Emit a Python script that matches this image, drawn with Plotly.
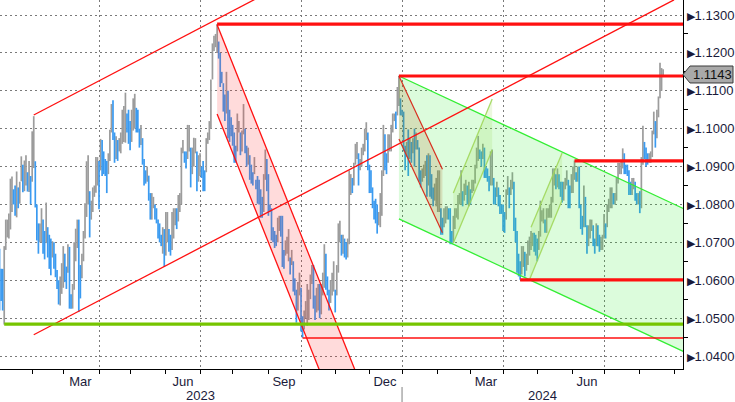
import pandas as pd
import plotly.graph_objects as go

# ------------------------------------------------
# DATA  (EUR/USD daily high / low, weekdays Jan 2 2023 -> Aug 22 2024)
# ------------------------------------------------
days = pd.bdate_range("2023-01-02", "2024-08-22")

high = [
    # 2023
    1.0713, 1.0683, 1.0630, 1.0630, 1.0690,
    1.0760, 1.0760, 1.0776, 1.0868, 1.0874,
    1.0840, 1.0850, 1.0887, 1.0845, 1.0860,
    1.0927, 1.0905, 1.0916, 1.0930, 1.0885,
    1.0915, 1.0875, 1.0993, 1.1033, 1.0914,
    1.0800, 1.0750, 1.0750, 1.0790, 1.0760,
    1.0730, 1.0805, 1.0740, 1.0720, 1.0710,
    1.0703, 1.0700, 1.0670, 1.0627, 1.0600,
    1.0610, 1.0645, 1.0690, 1.0670, 1.0636,
    1.0695, 1.0688, 1.0563, 1.0590, 1.0700,
    1.0736, 1.0760, 1.0760, 1.0640, 1.0670,
    1.0730, 1.0803, 1.0914, 1.0930, 1.0835,
    1.0810, 1.0845, 1.0850, 1.0925, 1.0925,
    1.0915, 1.0973, 1.0970, 1.0940, 1.0920,
    1.0915, 1.0935, 1.0997, 1.1065, 1.1075,
    1.0990, 1.0980, 1.0970, 1.0975, 1.0990,
    1.1050, 1.1060, 1.1095, 1.1040, 1.1050,
    1.1020, 1.1050, 1.1080, 1.1092, 1.1055,
    1.1050, 1.1000, 1.1010, 1.0975, 1.0920,
    1.0890, 1.0900, 1.0876, 1.0830, 1.0830,
    1.0820, 1.0800, 1.0790, 1.0760, 1.0750,
    1.0720, 1.0740, 1.0735, 1.0780, 1.0780,
    1.0735, 1.0720, 1.0780, 1.0790, 1.0790,
    1.0790, 1.0825, 1.0830, 1.0950, 1.0970,
    1.0940, 1.0940, 1.1010, 1.1010, 1.0950,
    1.0950, 1.0976, 1.0975, 1.0940, 1.0930,
    1.0935, 1.0900, 1.0915, 1.0890, 1.0975,
    1.0990, 1.1020, 1.1130, 1.1225, 1.1245,
    1.1250, 1.1276, 1.1230, 1.1200, 1.1150,
    1.1120, 1.1090, 1.1150, 1.1100, 1.1050,
    1.1030, 1.1010, 1.0990, 1.0955, 1.1040,
    1.1020, 1.0990, 1.0995, 1.1065, 1.1000,
    1.0955, 1.0950, 1.0930, 1.0905, 1.0885,
    1.0925, 1.0865, 1.0875, 1.0865, 1.0840,
    1.0820, 1.0880, 1.0945, 1.0920, 1.0880,
    1.0800, 1.0790, 1.0740, 1.0730, 1.0720,
    1.0765, 1.0770, 1.0770, 1.0770, 1.0680,
    1.0705, 1.0715, 1.0735, 1.0660, 1.0680,
    1.0650, 1.0605, 1.0575, 1.0595, 1.0620,
    1.0580, 1.0505, 1.0520, 1.0545, 1.0590,
    1.0575, 1.0615, 1.0640, 1.0640, 1.0560,
    1.0580, 1.0590, 1.0590, 1.0590, 1.0620,
    1.0695, 1.0670, 1.0610, 1.0575, 1.0600,
    1.0620, 1.0650, 1.0575, 1.0640, 1.0750,
    1.0757, 1.0720, 1.0720, 1.0710, 1.0700,
    1.0710, 1.0890, 1.0880, 1.0870, 1.0910,
    1.0960, 1.0965, 1.0935, 1.0920, 1.0950,
    1.0960, 1.1000, 1.1017, 1.0990, 1.0905,
    1.0890, 1.0845, 1.0810, 1.0815, 1.0800,
    1.0780, 1.0830, 1.0890, 1.1010, 1.0985,
    1.0935, 1.0985, 1.0985, 1.1010, 1.1040,
    1.1040, 1.1045, 1.1110, 1.1140, 1.1080,
    # 2024
    1.1050, 1.1045, 1.0955, 1.0965, 1.0998,
    1.0975, 1.0965, 1.0975, 1.1000, 1.0990,
    1.0970, 1.0950, 1.0890, 1.0895, 1.0905,
    1.0915, 1.0930, 1.0935, 1.0930, 1.0880,
    1.0845, 1.0855, 1.0870, 1.0890, 1.0890,
    1.0790, 1.0765, 1.0790, 1.0795, 1.0795,
    1.0790, 1.0790, 1.0730, 1.0770, 1.0790,
    1.0790, 1.0825, 1.0830, 1.0890, 1.0835,
    1.0855, 1.0865, 1.0850, 1.0860, 1.0840,
    1.0865, 1.0865, 1.0905, 1.0950, 1.0981,
    1.0945, 1.0940, 1.0960, 1.0950, 1.0900,
    1.0895, 1.0875, 1.0940, 1.0945, 1.0870,
    1.0845, 1.0860, 1.0845, 1.0825, 1.0800,
    1.0800, 1.0780, 1.0840, 1.0875, 1.0845,
    1.0865, 1.0885, 1.0860, 1.0765, 1.0730,
    1.0670, 1.0650, 1.0690, 1.0690, 1.0675,
    1.0670, 1.0705, 1.0715, 1.0730, 1.0725,
    1.0725, 1.0720, 1.0710, 1.0730, 1.0810,
    1.0785, 1.0790, 1.0760, 1.0790, 1.0790,
    1.0800, 1.0820, 1.0895, 1.0895, 1.0880,
    1.0895, 1.0880, 1.0860, 1.0860, 1.0860,
    1.0870, 1.0890, 1.0865, 1.0850, 1.0880,
    1.0900, 1.0916, 1.0885, 1.0900, 1.0900,
    1.0800, 1.0770, 1.0850, 1.0820, 1.0745,
    1.0745, 1.0760, 1.0760, 1.0745, 1.0710,
    1.0750, 1.0745, 1.0720, 1.0715, 1.0720,
    1.0775, 1.0750, 1.0800, 1.0815, 1.0845,
    1.0845, 1.0830, 1.0830, 1.0870, 1.0910,
    1.0910, 1.0915, 1.0948, 1.0935, 1.0905,
    1.0905, 1.0890, 1.0860, 1.0870, 1.0870,
    1.0860, 1.0830, 1.0830, 1.0835, 1.0925,
    1.1008, 1.0965, 1.0950, 1.0935, 1.0935,
    1.0940, 1.0995, 1.1045, 1.1020, 1.1050,
    1.1085, 1.1174, 1.1160, 1.1157,
]

low = [
    # 2023
    1.0655, 1.0520, 1.0545, 1.0520, 1.0483,
    1.0680, 1.0713, 1.0710, 1.0734, 1.0780,
    1.0800, 1.0770, 1.0766, 1.0790, 1.0802,
    1.0861, 1.0832, 1.0835, 1.0850, 1.0834,
    1.0833, 1.0800, 1.0860, 1.0896, 1.0792,
    1.0705, 1.0670, 1.0700, 1.0700, 1.0670,
    1.0655, 1.0698, 1.0660, 1.0630, 1.0613,
    1.0660, 1.0630, 1.0608, 1.0577, 1.0536,
    1.0533, 1.0564, 1.0580, 1.0595, 1.0577,
    1.0620, 1.0525, 1.0525, 1.0525, 1.0575,
    1.0650, 1.0685, 1.0516, 1.0552, 1.0605,
    1.0650, 1.0710, 1.0767, 1.0800, 1.0713,
    1.0760, 1.0780, 1.0820, 1.0831, 1.0850,
    1.0787, 1.0890, 1.0875, 1.0880, 1.0875,
    1.0830, 1.0880, 1.0915, 1.0990, 1.0970,
    1.0910, 1.0920, 1.0915, 1.0940, 1.0935,
    1.0960, 1.0965, 1.0963, 1.0990, 1.0960,
    1.0943, 1.0965, 1.0995, 1.1000, 1.0990,
    1.0990, 1.0950, 1.0957, 1.0905, 1.0850,
    1.0855, 1.0860, 1.0810, 1.0760, 1.0760,
    1.0790, 1.0760, 1.0750, 1.0710, 1.0700,
    1.0690, 1.0670, 1.0635, 1.0665, 1.0700,
    1.0675, 1.0665, 1.0680, 1.0710, 1.0745,
    1.0735, 1.0755, 1.0780, 1.0800, 1.0935,
    1.0910, 1.0895, 1.0920, 1.0940, 1.0845,
    1.0880, 1.0900, 1.0935, 1.0835, 1.0860,
    1.0875, 1.0870, 1.0835, 1.0835, 1.0885,
    1.0960, 1.0970, 1.1000, 1.1130, 1.1205,
    1.1215, 1.1200, 1.1185, 1.1110, 1.1120,
    1.1045, 1.1020, 1.1040, 1.0975, 1.0965,
    1.0980, 1.0955, 1.0910, 1.0910, 1.0940,
    1.0990, 1.0930, 1.0940, 1.0985, 1.0935,
    1.0900, 1.0905, 1.0865, 1.0855, 1.0850,
    1.0880, 1.0840, 1.0802, 1.0800, 1.0765,
    1.0765, 1.0780, 1.0865, 1.0835, 1.0770,
    1.0780, 1.0705, 1.0700, 1.0685, 1.0690,
    1.0700, 1.0730, 1.0715, 1.0635, 1.0630,
    1.0665, 1.0670, 1.0650, 1.0615, 1.0640,
    1.0570, 1.0560, 1.0488, 1.0520, 1.0560,
    1.0465, 1.0448, 1.0470, 1.0500, 1.0480,
    1.0495, 1.0550, 1.0590, 1.0525, 1.0495,
    1.0515, 1.0520, 1.0500, 1.0510, 1.0560,
    1.0580, 1.0575, 1.0560, 1.0520, 1.0540,
    1.0560, 1.0570, 1.0515, 1.0560, 1.0620,
    1.0700, 1.0665, 1.0670, 1.0660, 1.0655,
    1.0660, 1.0695, 1.0825, 1.0830, 1.0850,
    1.0905, 1.0920, 1.0850, 1.0890, 1.0900,
    1.0930, 1.0940, 1.0970, 1.0890, 1.0830,
    1.0830, 1.0790, 1.0760, 1.0750, 1.0723,
    1.0745, 1.0740, 1.0770, 1.0875, 1.0890,
    1.0880, 1.0910, 1.0940, 1.0940, 1.0990,
    1.1020, 1.1000, 1.1035, 1.1060, 1.1035,
    # 2024
    1.1035, 1.0940, 1.0890, 1.0925, 1.0875,
    1.0920, 1.0910, 1.0935, 1.0900, 1.0945,
    1.0945, 1.0860, 1.0845, 1.0860, 1.0870,
    1.0875, 1.0820, 1.0850, 1.0820, 1.0815,
    1.0795, 1.0810, 1.0795, 1.0780, 1.0780,
    1.0720, 1.0720, 1.0740, 1.0750, 1.0760,
    1.0760, 1.0695, 1.0695, 1.0700, 1.0735,
    1.0765, 1.0760, 1.0800, 1.0800, 1.0795,
    1.0810, 1.0825, 1.0800, 1.0795, 1.0800,
    1.0830, 1.0835, 1.0855, 1.0895, 1.0915,
    1.0920, 1.0900, 1.0920, 1.0870, 1.0870,
    1.0860, 1.0835, 1.0850, 1.0850, 1.0800,
    1.0800, 1.0820, 1.0795, 1.0775, 1.0775,
    1.0730, 1.0725, 1.0760, 1.0825, 1.0790,
    1.0825, 1.0840, 1.0730, 1.0700, 1.0620,
    1.0610, 1.0601, 1.0615, 1.0635, 1.0610,
    1.0625, 1.0640, 1.0665, 1.0680, 1.0690,
    1.0675, 1.0665, 1.0650, 1.0680, 1.0715,
    1.0755, 1.0750, 1.0725, 1.0725, 1.0765,
    1.0765, 1.0765, 1.0805, 1.0850, 1.0840,
    1.0845, 1.0840, 1.0820, 1.0805, 1.0810,
    1.0840, 1.0850, 1.0790, 1.0790, 1.0830,
    1.0830, 1.0865, 1.0860, 1.0860, 1.0790,
    1.0735, 1.0720, 1.0740, 1.0740, 1.0670,
    1.0690, 1.0710, 1.0730, 1.0690, 1.0670,
    1.0690, 1.0690, 1.0675, 1.0680, 1.0680,
    1.0710, 1.0710, 1.0740, 1.0780, 1.0790,
    1.0790, 1.0800, 1.0800, 1.0810, 1.0855,
    1.0880, 1.0880, 1.0895, 1.0880, 1.0880,
    1.0875, 1.0825, 1.0825, 1.0825, 1.0840,
    1.0810, 1.0800, 1.0800, 1.0777, 1.0790,
    1.0905, 1.0920, 1.0900, 1.0905, 1.0910,
    1.0910, 1.0925, 1.0985, 1.0950, 1.0975,
    1.1030, 1.1080, 1.1100, 1.1138,
]

last_price = 1.1143

# axis labels
y_ticks = [1.04, 1.05, 1.06, 1.07, 1.08, 1.09, 1.10, 1.11, 1.12, 1.13]
month_label_dates = ["2023-03-16", "2023-06-16", "2023-09-15",
                     "2023-12-15", "2024-03-15", "2024-06-14"]
month_labels = ["Mar", "Jun", "Sep", "Dec", "Mar", "Jun"]
month_starts = ["2023-02-01", "2023-03-01", "2023-04-03", "2023-05-01",
                "2023-06-01", "2023-07-03", "2023-08-01", "2023-09-01",
                "2023-10-02", "2023-11-01", "2023-12-01", "2024-01-01",
                "2024-02-01", "2024-03-01", "2024-04-01", "2024-05-01",
                "2024-06-03", "2024-07-01", "2024-08-01", "2024-09-02"]
quarter_starts = ["2023-04-03", "2023-07-03", "2023-10-02",
                  "2024-01-01", "2024-04-01", "2024-07-01"]
years = ["2023", "2024"]

# drawn studies: (dates, prices)
END = "2024-09-30"
rise_upper = (["2023-02-02", "2024-09-02"], [1.1036, 1.1920])
rise_lower = (["2023-02-02", "2024-09-02"], [1.0456, 1.1340])

fall_upper = (["2023-07-18", "2023-11-30"], [1.1274, 1.0278])
fall_lower = (["2023-07-18", "2023-11-30"], [1.1039, 1.0043])

down_upper = (["2023-12-28", END], [1.1139, 1.0751])
down_lower = (["2023-12-28", END], [1.0762, 1.0374])

tan_upper = (["2023-12-28", "2024-02-06"], [1.1139, 1.0893])
tan_lower = (["2023-12-28", "2024-02-06"], [1.0973, 1.0725])

flag1_upper = (["2024-02-15", "2024-03-21"], [1.0830, 1.1078])
flag1_lower = (["2024-02-15", "2024-03-21"], [1.0698, 1.0944])
flag2_upper = (["2024-04-25", "2024-05-23"], [1.0740, 1.0936])
flag2_lower = (["2024-04-24", "2024-05-23"], [1.0601, 1.0812])

levels_thick = [("2023-07-18", 1.1276), ("2023-12-28", 1.1139),
                ("2024-06-04", 1.0915), ("2024-04-16", 1.0601)]
level_green = ("2023-01-06", 1.0484)
level_thin = ("2023-10-03", 1.04475)

RED = "#ff1010"
BLUE = "#3a9af0"
GREY = "#9c9c9c"
FONT = "Liberation Sans, Arial, sans-serif"
TXT = "#1a1a3a"

fig = go.Figure()

# ------------------------------------------------
# PRICE BARS
# ------------------------------------------------
mid = [(h + l) / 2 for h, l in zip(high, low)]
rising = [i == 0 or mid[i] >= mid[i - 1] for i in range(len(mid))]


def bar_xy(flag):
    xs, ys = [], []
    for d, h, l, r in zip(days, high, low, rising):
        if r == flag:
            xs += [d, d, None]
            ys += [l, h, None]
    return xs, ys


for flag, col in [(True, GREY), (False, BLUE)]:
    bx, by = bar_xy(flag)
    fig.add_trace(go.Scatter(x=bx, y=by, mode="lines",
                             line=dict(color=col, width=1.7),
                             hoverinfo="skip", showlegend=False))


# ------------------------------------------------
# CHANNEL FILLS
# ------------------------------------------------
def band(upper, lower, color):
    xs = list(upper[0]) + list(lower[0])[::-1]
    ys = list(upper[1]) + list(lower[1])[::-1]
    fig.add_trace(go.Scatter(x=xs, y=ys, fill="toself", fillcolor=color,
                             mode="none", hoverinfo="skip", showlegend=False))


def seg(pts, color, width):
    fig.add_trace(go.Scatter(x=pts[0], y=pts[1], mode="lines",
                             line=dict(color=color, width=width),
                             hoverinfo="skip", showlegend=False))


band(fall_upper, fall_lower, "rgba(255,40,40,0.17)")
band(down_upper, down_lower, "rgba(40,235,40,0.16)")
band(tan_upper, tan_lower, "rgba(170,90,20,0.17)")
band(flag1_upper, flag1_lower, "rgba(150,215,80,0.18)")
band(flag2_upper, flag2_lower, "rgba(150,215,80,0.18)")

seg(fall_upper, RED, 1.3)
seg(fall_lower, RED, 1.3)
seg(down_upper, "#33ee33", 1.3)
seg(down_lower, "#33ee33", 1.3)
seg(tan_upper, "#d83020", 1.2)
seg(tan_lower, "#d83020", 1.2)
for p in (flag1_upper, flag1_lower, flag2_upper, flag2_lower):
    seg(p, "rgba(160,215,90,0.9)", 1.3)
seg(rise_upper, RED, 1.3)
seg(rise_lower, RED, 1.3)

# horizontal levels
seg(([level_thin[0], END], [level_thin[1]] * 2), RED, 1.3)
seg(([level_green[0], END], [level_green[1]] * 2), "#76c500", 3.2)
for d, v in levels_thick:
    seg(([d, END], [v, v]), RED, 3.2)

# dummy trace so the grid axis renders
fig.add_trace(go.Scatter(x=[days[0]], y=[high[0]], xaxis="x2", mode="markers",
                         marker=dict(opacity=0), hoverinfo="skip", showlegend=False))

# ------------------------------------------------
# LAYOUT
# ------------------------------------------------
x_range = ["2023-01-03 07:00", "2024-09-09 19:00"]
breaks = [dict(bounds=["sat", "mon"])]

fig.update_layout(
    width=735, height=402,
    margin=dict(l=0, r=52, t=0, b=33),
    plot_bgcolor="white", paper_bgcolor="white",
    font=dict(family=FONT, size=13, color=TXT),
    showlegend=False,
    xaxis=dict(
        type="date", range=x_range, rangebreaks=breaks,
        tickmode="array", tickvals=month_label_dates, ticktext=month_labels,
        ticks="", showgrid=False, zeroline=False,
        showline=True, linecolor="black", linewidth=1,
        ticklabelstandoff=0,
        minor=dict(tickmode="array", tickvals=month_starts, ticks="outside",
                   ticklen=4, tickcolor="black", showgrid=False),
    ),
    xaxis2=dict(
        type="date", range=x_range, rangebreaks=breaks, overlaying="x",
        anchor="y", tickmode="array", tickvals=quarter_starts,
        showticklabels=False, ticks="", showgrid=True,
        gridcolor="#7a7a7a", griddash="2px,3px", gridwidth=1, zeroline=False,
    ),
    yaxis=dict(
        side="right", range=[1.03657, 1.13396],
        tickmode="array", tickvals=y_ticks,
        ticktext=["<span style='font-size:11px'>\u25B6</span>%.4f" % v for v in y_ticks],
        ticks="", ticklabelstandoff=0,
        showgrid=True, gridcolor="#7a7a7a", griddash="2px,3px", gridwidth=1,
        zeroline=False, showline=True, linecolor="black", linewidth=1,
        minor=dict(tickmode="array", tickvals=[v + 0.005 for v in y_ticks[:-1]],
                   ticks="outside", ticklen=4, tickcolor="black", showgrid=False),
    ),
)

# year row
for i, yr in enumerate(years):
    fig.add_annotation(x=[0.294, 0.794][i], y=0, xref="paper", yref="paper",
                       yshift=-26, yanchor="middle", xanchor="center",
                       text=yr, showarrow=False,
                       font=dict(family=FONT, size=13, color=TXT))
fig.add_shape(type="line", xref="x", yref="paper", x0="2024-01-01", x1="2024-01-01",
              y0=-18 / 369, y1=-33 / 369, line=dict(color="#808080", width=1))

# last price tag
h = 0.00224
tip, body, right = 1.0, 1 + 7 / 683, 1 + 50 / 683
fig.add_shape(type="path", xref="paper", yref="y",
              path=f"M {tip},{last_price} L {body},{last_price + h} L {right},{last_price + h} "
                   f"L {right},{last_price - h} L {body},{last_price - h} Z",
              fillcolor="#a9a9a9", line=dict(color="#3a3a3a", width=1))
fig.add_annotation(x=1 + 29 / 683, y=last_price, xref="paper", yref="y",
                   xanchor="center", yanchor="middle",
                   text="%.4f" % last_price, showarrow=False,
                   font=dict(family=FONT, size=13, color="#111111"))

fig.write_html("out.html",
               config={"displayModeBar": False},
               post_script="document.body.style.margin='0';"
                           "document.body.style.overflow='hidden';")
